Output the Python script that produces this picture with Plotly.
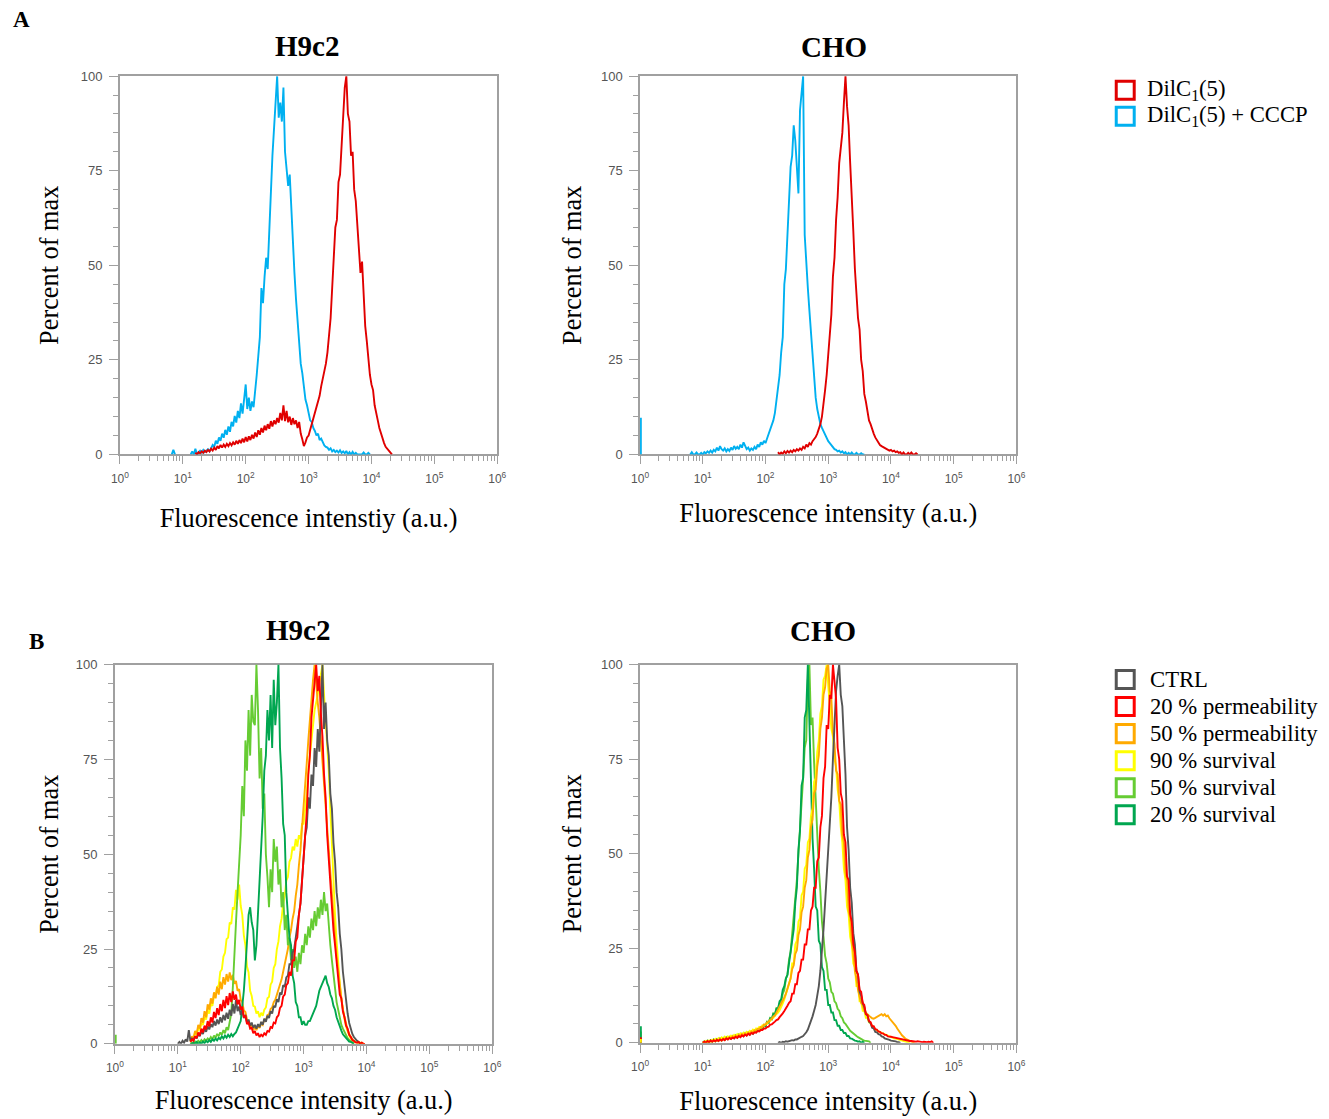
import plotly.graph_objects as go

W, H = 1329, 1119
# the photographed page is drawn with an 8 px inset and then fitted to W x H
INSET = 8
SX, SY = W / (W + 2 * INSET), H / (H + 2 * INSET)
STEP = 0.025  # width of one histogram channel, in log10 units

# ---------------- Panel A : H9c2 ----------------
A_H9_CCCP_START = 0.8
A_H9_CCCP = [
    None, 0, 1.2, 0, None, None, None, None,          # 0.8
    None, None, None, None, None, 0, 0.8, 0,          # 1.0
    1.5, 0, 0.6, 1.0, 0.5, 1.2, 0.6, 1.0,             # 1.2
    1.4, 0.8, 1.8, 2.5, 2.0, 3.6, 2.8, 4.5,           # 1.4
    3.6, 5.5, 4.4, 6.5, 5.2, 7.4, 6.0, 8.6,           # 1.6
    7.4, 10.2, 8.4, 11.5, 9.6, 13.5, 10.8, 14.2,      # 1.8
    18.5, 12, 15, 11.5, 14, 12.5, 18, 21,             # 2.0
    26, 31, 44, 40, 47, 52, 49, 60,                   # 2.2
    66, 79, 86, 92, 100, 89, 93, 88,                  # 2.4
    97, 80, 76, 71, 74, 64, 58, 48,                   # 2.6
    41, 35, 30, 24, 21.5, 18, 14.5, 13,               # 2.8
    10.5, 9, 8.6, 7, 6.2, 5, 5.5, 3.8,                # 3.0
    4.2, 3, 2.4, 2, 1.8, 1.2, 1.6, 0.8,               # 3.2
    1.2, 0.6, 1, 0.5, 1.1, 0.4, 0.8, 0.3,             # 3.4
    0.9, 0, 0.6, 0, 0.7, 0, 0.4, 0,                   # 3.6
    0, 0, 0, 0.5, 0, 0, 0.4, 0,                       # 3.8
]
A_H9_DIL_START = 1.2
A_H9_DIL = [
    0.5, 0, 0.6, 0.3, 0.8, 0.4, 1.0, 0.6,             # 1.2
    1.2, 0.8, 1.5, 1.0, 1.8, 1.2, 2.2, 1.6,           # 1.4
    2.5, 1.8, 2.6, 2.0, 2.8, 2.2, 3.0, 2.4,           # 1.6
    3.2, 2.6, 3.6, 2.8, 3.8, 3.0, 4.2, 3.2,           # 1.8
    4.6, 3.4, 4.8, 3.8, 5.2, 4.2, 5.8, 4.6,           # 2.0
    6.4, 5.2, 7.0, 5.8, 7.6, 6.4, 8.0, 6.8,           # 2.2
    8.8, 7.4, 9.0, 8.0, 9.6, 8.4, 11.0, 9.0,          # 2.4
    13.0, 8.8, 11.5, 8.5, 10.0, 7.8, 9.6, 8.0,        # 2.6
    9.0, 7.0, 8.6, 5.5, 4.0, 2.2, 3.2, 4.5,           # 2.8
    5.0, 6.5, 7.5, 9.5, 10.5, 12.5, 14.0, 15.5,       # 3.0
    18, 20, 22, 24, 27, 31, 36, 44,                   # 3.2
    52, 60, 62, 72, 74, 82, 88, 97,                   # 3.4
    100, 90, 88, 79, 80, 70, 67, 60,                  # 3.6
    54, 48, 51, 40, 34, 30, 25, 21,                   # 3.8
    18.5, 17, 13, 10.5, 9, 7, 5.5, 4,                 # 4.0
    3, 2, 1.5, 0.8, 0.5, 0,                           # 4.2
]

# ---------------- Panel A : CHO ----------------
A_CHO_CCCP_CH0 = 9.7   # events piled in the first channel (10^0)
A_CHO_CCCP_START = 0.8
A_CHO_CCCP = [
    0, 0.6, 0, 0, 0.5, 0, 0, 0.4,                     # 0.8
    0, 0.6, 0.3, 0.8, 0.4, 1.0, 0.5, 1.2,             # 1.0
    0.8, 1.8, 1.0, 2.2, 1.4, 1.0, 1.6, 0.8,           # 1.2
    1.4, 0.9, 1.8, 1.2, 2.2, 1.5, 2.0, 1.4,           # 1.4
    2.6, 1.8, 3.2, 2.0, 1.4, 1.8, 1.0, 1.6,           # 1.6
    1.2, 2.0, 1.4, 2.6, 2.0, 3.2, 2.6, 3.6,           # 1.8
    3.0, 4.2, 5.5, 6.5, 8.0, 9.0, 11, 14,             # 2.0
    17, 21, 27, 31, 45, 49, 58, 68,                   # 2.2
    76, 79, 87, 83, 75, 69, 91, 96,                   # 2.4
    100, 58, 50, 44, 38, 32, 26, 20,                  # 2.6
    15, 12, 10, 8, 7, 6, 5, 4.5,                      # 2.8
    3.5, 3, 2.4, 2, 1.4, 1.2, 0.8, 1,                 # 3.0
    0.5, 0.8, 0.3, 0.6, 0, 0.4, 0, 0.5,               # 3.2
    0, 0, 0.4, 0, 0, 0.3, 0, 0,                       # 3.4
]
A_CHO_DIL_START = 2.2
A_CHO_DIL = [
    0.6, 0, 0.5, 0.2, 0.8, 0.3, 0.9, 0.5,             # 2.2
    1.0, 0.6, 1.2, 0.8, 1.4, 1.0, 1.6, 1.2,           # 2.4
    2.0, 1.6, 2.6, 2.0, 3.0, 2.6, 3.5, 4.0,           # 2.6
    4.6, 5.5, 6.8, 8, 10, 13, 17, 21,                 # 2.8
    26, 33, 37, 47, 52, 62, 68, 77,                   # 3.0
    81, 85, 93, 100, 92, 87, 77, 69,                  # 3.2
    59, 49, 43, 36, 33, 25, 22, 16,                   # 3.4
    14, 11, 9, 8, 6.5, 5.5, 4.5, 3.8,                 # 3.6
    3, 2.5, 2.2, 2, 1.6, 1.5, 1.2, 1,                 # 3.8
    1.2, 0.8, 1, 0.6, 0.8, 0.4, 0.6, 0,               # 4.0
    0.5, 0, 0, 0.4, 0, 0.5, 0, 0,                     # 4.2
    0.3, 0,                                           # 4.4
]

# ---------------- Panel B : H9c2 ----------------
B_H9_CTRL_START = 1.0
B_H9_CTRL = [
    0, 0.5, 0, 0.8, 0.3, 1.2, 0.6, 3.6,               # 1.0
    0.8, 1.4, 1.0, 2.0, 1.4, 2.6, 2.0, 3.4,           # 1.2
    2.6, 4.0, 3.2, 4.6, 3.8, 5.2, 4.4, 6.0,           # 1.4
    4.8, 6.4, 5.2, 7.0, 5.6, 7.6, 6.2, 8.2,           # 1.6
    6.6, 9.0, 7.4, 10.5, 8.0, 11.6, 8.6, 9.8,         # 1.8
    7.6, 8.8, 6.8, 7.6, 5.6, 6.4, 4.8, 5.6,           # 2.0
    4.2, 5.0, 4.0, 5.2, 4.4, 5.8, 5.0, 6.6,           # 2.2
    5.8, 7.4, 6.8, 8.6, 8.0, 10.0, 9.6, 11.8,         # 2.4
    11, 13.5, 13, 15.5, 15, 17.5, 18, 21,             # 2.6
    21, 24, 25, 28, 30, 34, 37, 43,                   # 2.8
    48, 55, 57, 65, 62, 71, 68, 78,                   # 3.0
    73, 83, 77, 87, 100, 83, 90, 80,                  # 3.2
    76, 66, 62, 53, 48, 40, 36, 29,                   # 3.4
    25, 19, 15, 10.5, 8, 5.5, 4, 2.6,                 # 3.6
    1.8, 1.2, 0.8, 0.5, 0,                            # 3.8
]
B_H9_P20_START = 1.2
B_H9_P20 = [
    0.5, 1.2, 0.8, 2.0, 1.5, 3.0, 2.2, 4.0,           # 1.2
    3.0, 4.8, 3.8, 6.0, 4.6, 7.0, 5.6, 8.4,           # 1.4
    6.8, 9.4, 7.6, 10.5, 8.6, 11.6, 9.4, 12.6,        # 1.6
    10.2, 13.4, 11.0, 13.8, 11.6, 13.0, 10.4, 11.6,   # 1.8
    9.0, 9.8, 7.0, 7.4, 5.2, 5.6, 4.0, 4.2,           # 2.0
    2.8, 3.4, 2.2, 2.8, 1.8, 2.4, 2.0, 2.8,           # 2.2
    2.4, 3.4, 3.2, 4.4, 4.2, 5.6, 5.4, 7.0,           # 2.4
    7.5, 9.5, 10, 12.5, 13, 15.5, 16, 19,             # 2.6
    18, 22, 22, 27, 28, 34, 37, 43,                   # 2.8
    47, 55, 61, 71, 76, 86, 91, 97,                   # 3.0
    100, 93, 97, 87, 81, 71, 65, 55,                  # 3.2
    48, 41, 36, 30, 26, 21, 18, 13,                   # 3.4
    12, 8.5, 7, 4.8, 4, 2.4, 1.8, 1.0,                # 3.6
    0.8, 0.4, 0.3, 0.5, 0, 0.3, 0, 0,                 # 3.8
]
B_H9_P50_START = 1.2
B_H9_P50 = [
    0.8, 2.0, 1.5, 3.4, 2.6, 5.0, 4.0, 6.8,           # 1.2
    5.6, 8.6, 7.0, 10.4, 9.0, 12.0, 10.6, 13.6,       # 1.4
    12.0, 15.0, 13.0, 16.4, 14.4, 17.6, 15.6, 18.4,   # 1.6
    16.4, 18.8, 16.8, 18.2, 15.8, 16.6, 14.0, 14.4,   # 1.8
    11.6, 11.0, 8.8, 8.4, 6.4, 6.0, 4.6, 4.8,         # 2.0
    3.6, 4.4, 3.6, 4.8, 4.2, 5.4, 5.0, 6.4,           # 2.2
    6.2, 7.6, 7.8, 9.2, 9.6, 11, 11.6, 13,            # 2.4
    14, 16, 17, 19, 21, 23, 25, 28,                   # 2.6
    30, 33, 35, 39, 42, 47, 51, 57,                   # 2.8
    62, 68, 74, 80, 86, 92, 96, 100,                  # 3.0
    94, 90, 86, 80, 74, 68, 62, 56,                   # 3.2
    50, 44, 38, 33, 28, 23, 19, 15,                   # 3.4
    12, 9, 7, 5, 3.6, 2.6, 1.8, 1.2,                  # 3.6
    0.8, 0.5, 0.3, 0.5, 0, 0.3, 0, 0,                 # 3.8
]
B_H9_S90_START = 1.2
B_H9_S90 = [
    0.6, 1.8, 1.2, 3.0, 2.4, 4.2, 3.6, 5.4,           # 1.2
    5.0, 7.0, 6.4, 8.8, 8.0, 10.6, 10.0, 12.6,        # 1.4
    12.4, 15.0, 15.4, 19.0, 19.6, 23.0, 24.0, 27.6,   # 1.6
    28.0, 32.0, 31.6, 36.0, 35.4, 40.6, 38.0, 42.0,   # 1.8
    36.4, 34.0, 28.6, 26.0, 20.4, 18.8, 14.0, 12.6,   # 2.0
    10.0, 9.8, 8.0, 8.6, 7.0, 8.2, 7.4, 9.0,          # 2.2
    9.6, 12.0, 12.4, 15.6, 16.4, 20.0, 21.0, 25.0,    # 2.4
    27, 31, 33, 37, 39, 43, 44, 48,                   # 2.6
    49, 52, 51, 54, 52, 55, 54, 58,                   # 2.8
    58, 62, 66, 72, 76, 80, 84, 88,                   # 3.0
    90, 92, 95, 98, 100, 92, 86, 80,                  # 3.2
    72, 62, 52, 42, 34, 27, 21, 16,                   # 3.4
    12, 9, 6.5, 4.6, 3.2, 2.2, 1.4, 1.0,              # 3.6
    0.6, 0.4, 0.5, 0, 0.3, 0,                         # 3.8
]
B_H9_S50_CH0 = 2.4
B_H9_S50_START = 1.2
B_H9_S50 = [
    0, 0.4, 0, 0.6, 0.2, 0.8, 0.4, 1.0,               # 1.2
    0.5, 1.2, 0.8, 1.4, 1.0, 1.8, 1.2, 2.2,           # 1.4
    1.6, 2.6, 2.0, 3.0, 2.4, 3.6, 2.8, 4.4,           # 1.6
    3.6, 6.0, 8.0, 15, 22, 32, 40, 47,                # 1.8
    55, 68, 60, 80, 72, 88, 76, 92,                   # 2.0
    85, 84, 100, 88, 70, 78, 62, 66,                  # 2.2
    50, 44, 36, 46, 40, 54, 48, 52,                   # 2.4
    42, 46, 36, 40, 30, 34, 26, 28,                   # 2.6
    22, 25, 20, 23, 19, 24, 21, 26,                   # 2.8
    24, 29, 26, 31, 28, 33, 30, 35,                   # 3.0
    31, 36, 33, 38, 34, 40, 35, 37,                   # 3.2
    30, 26, 22, 18, 14, 11, 9, 7,                     # 3.4
    5, 4, 3, 2, 1.5, 1.0, 0.8, 0.4,                   # 3.6
    0,                                                # 3.8
]
B_H9_S20_START = 1.2
B_H9_S20 = [
    0, 0, 0.3, 0, 0.5, 0, 0.4, 0,                     # 1.2
    0.6, 0.2, 0.8, 0.4, 1.0, 0.5, 1.2, 0.8,           # 1.4
    1.4, 0.9, 1.6, 1.2, 2.0, 1.4, 2.2, 1.6,           # 1.6
    2.4, 1.8, 2.6, 2.0, 2.6, 3.0, 4.0, 5.0,           # 1.8
    6, 10, 14, 20, 28, 34, 36, 32,                    # 2.0
    30, 22, 26, 34, 42, 52, 60, 72,                   # 2.2
    76, 88, 80, 92, 78, 96, 84, 90,                   # 2.4
    100, 78, 70, 58, 55, 40, 34, 28,                  # 2.6
    26, 18, 16, 11, 10, 7, 7, 5,                      # 2.8
    6, 5, 5, 6, 6, 7, 8, 9,                           # 3.0
    10, 12, 14, 15, 16, 17, 18, 16,                   # 3.2
    15, 13, 12, 10, 9, 7, 6, 4.5,                     # 3.4
    3.5, 2.5, 2, 1.4, 1, 0.6, 0.5, 0.3,               # 3.6
    0,                                                # 3.8
]

# ---------------- Panel B : CHO ----------------
B_CHO_CTRL_START = 2.2
B_CHO_CTRL = [
    0, 0.2, 0, 0.3, 0.2, 0.4, 0.3, 0.5,               # 2.2
    0.5, 0.7, 0.6, 0.9, 0.9, 1.2, 1.3, 1.6,           # 2.4
    1.8, 2.2, 2.8, 3.5, 4.5, 5.5, 7, 8.5,             # 2.6
    10, 12.5, 15, 19, 24, 30, 37, 44,                 # 2.8
    50, 59, 65, 75, 83, 93, 97, 100,                  # 3.0
    92, 89, 80, 71, 57, 51, 41, 37,                   # 3.2
    29, 26, 19, 18, 13.5, 12.5, 10.5, 9.5,            # 3.4
    7.6, 7.2, 5.6, 5.2, 4, 3.8, 2.9, 2.8,             # 3.6
    2.3, 2.2, 1.7, 1.6, 1.2, 1.1, 0.8, 0.8,           # 3.8
    0.6, 0.6, 0.4, 0.4, 0.2, 0.2, 0,                  # 4.0
]
B_CHO_P20_CH0 = 1.5
B_CHO_P20_START = 1.0
B_CHO_P20 = [
    0, 0.3, 0, 0.5, 0.2, 0.6, 0.3, 0.7,               # 1.0
    0.4, 0.8, 0.5, 0.9, 0.6, 1.0, 0.7, 1.2,           # 1.2
    0.9, 1.3, 1.0, 1.4, 1.2, 1.6, 1.3, 1.8,           # 1.4
    1.5, 2.0, 1.7, 2.2, 1.9, 2.4, 2.1, 2.6,           # 1.6
    2.4, 2.8, 2.7, 3.1, 3.0, 3.4, 3.4, 3.8,           # 1.8
    3.8, 4.2, 4.3, 4.8, 4.9, 5.4, 5.6, 6.0,           # 2.0
    6.2, 6.8, 7.2, 7.8, 8.4, 9.0, 9.8, 10.6,          # 2.2
    11, 13, 13, 15.5, 15.5, 18.5, 19, 22,             # 2.4
    22, 26, 26, 30, 30, 35, 36, 41,                   # 2.6
    41, 48, 49, 57, 60, 70, 73, 84,                   # 2.8
    83, 92, 91, 100, 95, 91, 78, 75,                  # 3.0
    66, 64, 55, 53, 44, 43, 34, 32,                   # 3.2
    26, 24, 19, 18, 14, 13.5, 10.5, 10,               # 3.4
    7.6, 7.4, 5.8, 5.5, 4.4, 4.4, 3.6, 3.5,           # 3.6
    3.0, 2.9, 2.5, 2.5, 2.1, 2.1, 1.7, 1.7,           # 3.8
    1.6, 1.5, 1.4, 1.3, 1.2, 1.1, 1.0, 0.9,           # 4.0
    0.8, 0.7, 0.6, 0.6, 0.5, 0.5, 0.4, 0.4,           # 4.2
    0.3, 0.4, 0.3, 0.3, 0.2, 0.3, 0.2, 0.2,           # 4.4
    0.3, 0.2, 0.4, 0,                                 # 4.6
]
B_CHO_P50_START = 1.0
B_CHO_P50 = [
    0, 0.3, 0, 0.4, 0.2, 0.5, 0.3, 0.6,               # 1.0
    0.4, 0.8, 0.5, 1.0, 0.6, 1.1, 0.8, 1.3,           # 1.2
    1.0, 1.5, 1.2, 1.7, 1.4, 1.9, 1.6, 2.1,           # 1.4
    1.8, 2.3, 2.0, 2.5, 2.2, 2.7, 2.4, 3.0,           # 1.6
    2.8, 3.3, 3.2, 3.7, 3.6, 4.2, 4.1, 4.8,           # 1.8
    4.8, 5.4, 5.5, 6.1, 6.3, 7.0, 7.2, 8.0,           # 2.0
    8.5, 9.2, 10, 11, 12, 13, 14.5, 16,               # 2.2
    17, 19.5, 20.5, 23.5, 24.5, 28.5, 30, 34.5,       # 2.4
    36, 41, 43, 49, 51, 57, 59, 66,                   # 2.6
    67, 73, 76, 83, 86, 92, 94, 99,                   # 2.8
    100, 93, 91, 82, 79, 72, 71, 64,                  # 3.0
    63, 55, 53, 45, 43, 35, 33, 27,                   # 3.2
    24, 19, 17, 14, 12.5, 10.5, 10, 8.5,              # 3.4
    8, 7.5, 7, 6.8, 6.5, 6.4, 6.6, 6.8,               # 3.6
    7, 7.4, 7.6, 7.2, 7.6, 7.0, 7.2, 6.5,             # 3.8
    6.0, 5.5, 5.2, 4.5, 3.8, 3.0, 2.6, 2.0,           # 4.0
    1.5, 1.2, 0.9, 0.6, 0.5, 0.3, 0.2, 0,             # 4.2
]
B_CHO_S90_CH0 = 1.0
B_CHO_S90_START = 1.0
B_CHO_S90 = [
    0.3, 0, 0.5, 0.2, 0.6, 0.3, 0.8, 0.4,             # 1.0
    1.0, 0.6, 1.2, 0.8, 1.4, 1.0, 1.6, 1.2,           # 1.2
    1.7, 1.3, 1.9, 1.5, 2.1, 1.7, 2.3, 1.9,           # 1.4
    2.5, 2.1, 2.7, 2.3, 2.9, 2.6, 3.2, 2.9,           # 1.6
    3.5, 3.2, 3.8, 3.6, 4.2, 4.0, 4.6, 4.5,           # 1.8
    5.0, 5.0, 5.6, 5.8, 6.4, 6.6, 7.2, 7.5,           # 2.0
    8.0, 8.6, 9.4, 10.4, 11.5, 13, 14.5, 16,          # 2.2
    17, 21, 21, 26, 27, 32, 33, 39,                   # 2.4
    40, 46, 47, 53, 54, 60, 62, 69,                   # 2.6
    70, 77, 80, 87, 89, 96, 97, 100,                  # 2.8
    93, 89, 83, 81, 75, 73, 67, 64,                   # 3.0
    57, 53, 46, 43, 36, 34, 28, 26,                   # 3.2
    21, 20, 15, 15, 11, 11, 8.5, 8.5,                 # 3.4
    6.6, 6.6, 5.4, 5.2, 4.4, 4.2, 3.5, 3.4,           # 3.6
    3, 2.8, 2.6, 2.4, 2.2, 2, 1.8, 1.6,               # 3.8
    1.5, 1.4, 1.2, 1.1, 1.0, 0.8, 0.7, 0.6,           # 4.0
    0.5, 0.4, 0.3, 0.2, 0,                            # 4.2
]
B_CHO_S50_CH0 = 3.0
B_CHO_S50_START = 1.0
B_CHO_S50 = [
    0, 0.4, 0.2, 0.6, 0.3, 0.7, 0.4, 0.9,             # 1.0
    0.5, 1.0, 0.6, 1.2, 0.8, 1.3, 0.9, 1.5,           # 1.2
    1.1, 1.6, 1.2, 1.8, 1.4, 2.0, 1.6, 2.2,           # 1.4
    1.8, 2.4, 2.0, 2.6, 2.2, 2.8, 2.4, 3.0,           # 1.6
    2.6, 3.2, 3.0, 3.6, 3.4, 4.2, 4.0, 4.8,           # 1.8
    4.6, 5.6, 5.4, 6.6, 6.4, 7.8, 7.6, 9.2,           # 2.0
    9, 10.5, 11, 13, 14, 17, 18, 22,                  # 2.2
    24, 29, 32, 38, 43, 50, 56, 64,                   # 2.4
    70, 78, 80, 96, 100, 84, 86, 74,                  # 2.6
    64, 56, 46, 40, 32, 28, 23, 21,                   # 2.8
    17, 16, 13.5, 13, 11, 10.5, 9, 8.5,               # 3.0
    7, 6.5, 5.4, 5, 4.2, 3.8, 3.2, 2.8,               # 3.2
    2.4, 2.1, 1.8, 1.5, 1.2, 1.0, 0.8, 0.6,           # 3.4
    0.5, 0.3, 0.4, 0,                                 # 3.6
]
B_CHO_S20_CH0 = 4.4
B_CHO_S20_START = 1.0
B_CHO_S20 = [
    0, 0.3, 0, 0.5, 0.2, 0.6, 0.3, 0.8,               # 1.0
    0.4, 0.9, 0.5, 1.0, 0.6, 1.2, 0.8, 1.4,           # 1.2
    1.0, 1.5, 1.1, 1.6, 1.2, 1.8, 1.4, 2.0,           # 1.4
    1.6, 2.2, 1.8, 2.4, 2.0, 2.6, 2.2, 2.8,           # 1.6
    2.4, 3.0, 2.8, 3.4, 3.2, 4.0, 3.8, 4.6,           # 1.8
    4.4, 5.4, 5.2, 6.4, 6.2, 7.6, 7.4, 9.0,           # 2.0
    9, 11, 11.5, 14, 15, 17, 18, 21,                  # 2.2
    23, 27, 30, 37, 41, 51, 56, 68,                   # 2.4
    70, 86, 88, 100, 84, 72, 54, 46,                  # 2.6
    36, 35, 27, 26, 20, 19, 14, 14,                   # 2.8
    10, 10, 8, 8, 6, 6, 4.5, 4.5,                     # 3.0
    3.4, 3.4, 2.6, 2.6, 1.8, 1.8, 1.2, 1.1,           # 3.2
    0.8, 0.6, 0.5, 0.3, 0.4, 0, 0.3, 0,               # 3.4
]

# ---------------- labels / colours ----------------
DECADES = [1, 10, 100, 1000, 10000, 100000, 1000000]
DECADE_LABELS = ["10<sup>0</sup>", "10<sup>1</sup>", "10<sup>2</sup>", "10<sup>3</sup>",
                 "10<sup>4</sup>", "10<sup>5</sup>", "10<sup>6</sup>"]
MINOR_X = [m * d for d in DECADES[:-1] for m in range(2, 10)]
Y_TICKS = [0, 25, 50, 75, 100]

A_NAMES = ["DilC<sub>1</sub>(5)", "DilC<sub>1</sub>(5) + CCCP"]
A_COLORS = ["#e00000", "#00b0f0"]
B_NAMES = ["CTRL", "20 % permeability", "50 % permeability",
           "90 % survival", "50 % survival", "20 % survival"]
B_COLORS = ["#555555", "#ff0000", "#ffaa00", "#ffff00", "#66cc33", "#00a650"]

SERIF = "Liberation Serif, Times New Roman, serif"
SANS = "Liberation Sans, Arial, sans-serif"
AXIS_GRAY = "#a0a0a0"


def px(x):
    """photo pixel -> paper fraction"""
    return (x / SX - INSET) / W


def py(y):
    return 1 - (y / SY - INSET) / H


def channels(start, n):
    return [10 ** (start + i * STEP) for i in range(n)]


fig = go.Figure()


def add_curve(sub, start, values, color):
    fig.add_trace(go.Scatter(
        x=channels(start, len(values)), y=values, mode="lines",
        line=dict(color=color, width=1.9), connectgaps=False,
        xaxis="x" + sub, yaxis="y" + sub, showlegend=False, hoverinfo="skip"))


def add_ch0(sub, value, color):
    fig.add_trace(go.Scatter(
        x=[1.03, 1.03], y=[0, value], mode="lines", line=dict(color=color, width=1.9),
        xaxis="x" + sub, yaxis="y" + sub, showlegend=False, hoverinfo="skip"))


# panel A H9c2 (subplot "")
add_curve("", A_H9_CCCP_START, A_H9_CCCP, A_COLORS[1])
add_curve("", A_H9_DIL_START, A_H9_DIL, A_COLORS[0])
# panel A CHO (subplot 2)
add_ch0("2", A_CHO_CCCP_CH0, A_COLORS[1])
add_curve("2", A_CHO_CCCP_START, A_CHO_CCCP, A_COLORS[1])
add_curve("2", A_CHO_DIL_START, A_CHO_DIL, A_COLORS[0])
# panel B H9c2 (subplot 3)
add_ch0("3", B_H9_S50_CH0, B_COLORS[4])
add_curve("3", B_H9_S90_START, B_H9_S90, B_COLORS[3])
add_curve("3", B_H9_P50_START, B_H9_P50, B_COLORS[2])
add_curve("3", B_H9_S50_START, B_H9_S50, B_COLORS[4])
add_curve("3", B_H9_S20_START, B_H9_S20, B_COLORS[5])
add_curve("3", B_H9_CTRL_START, B_H9_CTRL, B_COLORS[0])
add_curve("3", B_H9_P20_START, B_H9_P20, B_COLORS[1])
# panel B CHO (subplot 4)
add_ch0("4", B_CHO_S50_CH0, B_COLORS[4])
add_ch0("4", B_CHO_S20_CH0, B_COLORS[5])
add_ch0("4", B_CHO_P20_CH0, B_COLORS[1])
add_ch0("4", B_CHO_S90_CH0, B_COLORS[3])
add_curve("4", B_CHO_S50_START, B_CHO_S50, B_COLORS[4])
add_curve("4", B_CHO_S20_START, B_CHO_S20, B_COLORS[5])
add_curve("4", B_CHO_S90_START, B_CHO_S90, B_COLORS[3])
add_curve("4", B_CHO_P50_START, B_CHO_P50, B_COLORS[2])
add_curve("4", B_CHO_CTRL_START, B_CHO_CTRL, B_COLORS[0])
add_curve("4", B_CHO_P20_START, B_CHO_P20, B_COLORS[1])

PANELS = [
    # suffix, x-range px, y-range px, x-title, x-title standoff, y-title standoff
    ("", (119, 497), (77, 455), "Fluorescence intenstiy (a.u.)", 24, 14.5),
    ("2", (640, 1017), (77, 455), "Fluorescence intensity (a.u.)", 19, 12),
    ("3", (114, 492), (665, 1044), "Fluorescence intensity (a.u.)", 16.5, 9.5),
    ("4", (640, 1017), (665, 1043), "Fluorescence intensity (a.u.)", 19, 12),
]

layout_axes = {}
for suf, (x0, x1), (y0, y1), xtitle, xs, ys in PANELS:
    layout_axes["xaxis" + suf] = dict(
        domain=[px(x0), px(x1)], anchor="y" + suf, type="log", range=[0, 6],
        tickmode="array", tickvals=DECADES, ticktext=DECADE_LABELS,
        ticks="outside", ticklen=8, tickwidth=1, tickcolor=AXIS_GRAY,
        minor=dict(tickmode="array", tickvals=MINOR_X, ticks="outside", ticklen=5,
                   tickwidth=1, tickcolor=AXIS_GRAY, showgrid=False),
        showline=True, linecolor=AXIS_GRAY, linewidth=1.5, mirror=True,
        showgrid=False, zeroline=False, layer="below traces",
        ticklabelstandoff=4,
        tickfont=dict(family=SANS, size=12, color="#555555"),
        title=dict(text=xtitle, font=dict(family=SERIF, size=26.3, color="black"), standoff=xs),
    )
    layout_axes["yaxis" + suf] = dict(
        domain=[py(y1), py(y0)], anchor="x" + suf, range=[0, 100],
        tickmode="array", tickvals=Y_TICKS,
        ticks="outside", ticklen=9, tickwidth=1, tickcolor=AXIS_GRAY,
        minor=dict(dtick=5, tick0=0, ticks="outside", ticklen=5, tickwidth=1,
                   tickcolor=AXIS_GRAY, showgrid=False),
        showline=True, linecolor=AXIS_GRAY, linewidth=1.5, mirror=True,
        showgrid=False, zeroline=False, layer="below traces",
        ticklabelstandoff=4,
        tickfont=dict(family=SANS, size=13, color="#555555"),
        title=dict(text="Percent of max", font=dict(family=SERIF, size=26.3, color="black"), standoff=ys),
    )

annotations = []
for text, x, y, size in [("A", 20, 20, 23), ("B", 35, 642, 23),
                         ("H9c2", 306, 47, 29), ("CHO", 834, 48, 29),
                         ("H9c2", 297, 630, 29), ("CHO", 823, 631, 29)]:
    annotations.append(dict(text="<b>%s</b>" % text, x=px(x), y=py(y), xref="paper", yref="paper",
                            xanchor="center", yanchor="middle", showarrow=False,
                            font=dict(family=SERIF, size=size, color="black")))

# legends: open coloured squares followed by the label
shapes = []


def add_legend(names, colors, sq_x0, text_x, rows):
    for name, col, yc in zip(names, colors, rows):
        shapes.append(dict(type="rect", xref="paper", yref="paper",
                           x0=px(sq_x0), x1=px(sq_x0 + 18), y0=py(yc + 9), y1=py(yc - 9),
                           line=dict(color=col, width=3), fillcolor="rgba(0,0,0,0)"))
        annotations.append(dict(text=name, x=px(text_x), y=py(yc), xref="paper", yref="paper",
                                xanchor="left", yanchor="middle", showarrow=False,
                                font=dict(family=SERIF, size=22.7, color="black")))


add_legend(A_NAMES, A_COLORS, 1117, 1146, [91, 117])
add_legend(B_NAMES, B_COLORS, 1117, 1149, [680, 707, 734, 761, 788, 815])

fig.update_layout(
    width=W, height=H, margin=dict(l=0, r=0, t=0, b=0),
    paper_bgcolor="white", plot_bgcolor="white",
    showlegend=False,
    annotations=annotations,
    shapes=shapes,
    **layout_axes,
)

fig.write_html("out.html", config={"displayModeBar": False},
               post_script="document.body.style.margin='0';")
